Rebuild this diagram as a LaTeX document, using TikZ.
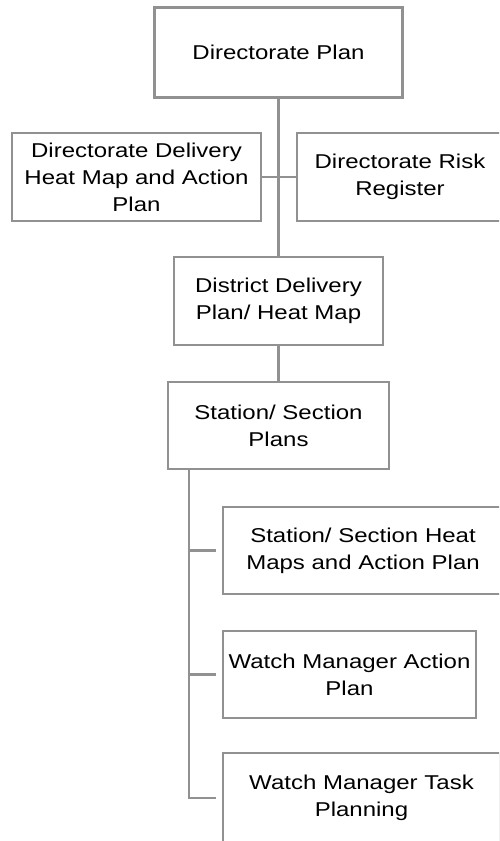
\documentclass[tikz,border=0pt]{standalone}
\usepackage{fontspec}
\setmainfont{Liberation Sans}[FakeStretch=1.2]
\definecolor{linegray}{RGB}{145,145,145}
\begin{document}
\begin{tikzpicture}[x=1pt,y=-1pt,
  box/.style={draw=linegray, line width=2.2pt, align=center, inner sep=0pt,
    font=\fontsize{20pt}{27pt}\selectfont, text=black},
  conn/.style={draw=linegray, line width=2.2pt}]
\useasboundingbox (0,0) rectangle (499,841);
\clip (0,0) rectangle (499,841);
\node[box, minimum width=248pt, minimum height=90pt] (dp) at (278.5,52.5) {Directorate Plan};
\node[box, minimum width=249pt, minimum height=88pt] (ddh) at (136.5,177) {Directorate Delivery\\Heat Map and Action\\Plan};
\node[box, minimum width=206pt, minimum height=88pt] (drr) at (400,177) {Directorate Risk\\Register};
\node[box, minimum width=209pt, minimum height=88pt] (ddp) at (278.5,301) {District Delivery\\Plan/ Heat Map};
\node[box, minimum width=221pt, minimum height=87pt] (ssp) at (278.5,425.5) {Station/ Section\\Plans};
\node[box, minimum width=280pt, minimum height=87pt] (ssh) at (363,550.5) {Station/ Section Heat\\Maps and Action Plan};
\node[box, minimum width=253pt, minimum height=87pt] (wma) at (349.5,674.5) {Watch Manager Action\\Plan};
\node[box, minimum width=277pt, minimum height=90pt] (wmt) at (361.5,798) {Watch Manager Task\\Planning};
\draw[conn] (dp.south) -- (ddp.north);
\draw[conn] (ddh.east) -- (drr.west);
\draw[conn] (ddp.south) -- (ssp.north);
\coordinate (spinetop) at ([xshift=22pt]ssp.south west);
\coordinate (spinebot) at (spinetop |- wmt.west);
\draw[conn] (spinetop) -- (spinebot) -- ([xshift=-6pt]wmt.west);
\draw[conn] (spinetop |- ssh.west) -- ([xshift=-6pt]ssh.west);
\draw[conn] (spinetop |- wma.west) -- ([xshift=-6pt]wma.west);
\end{tikzpicture}
\end{document}
